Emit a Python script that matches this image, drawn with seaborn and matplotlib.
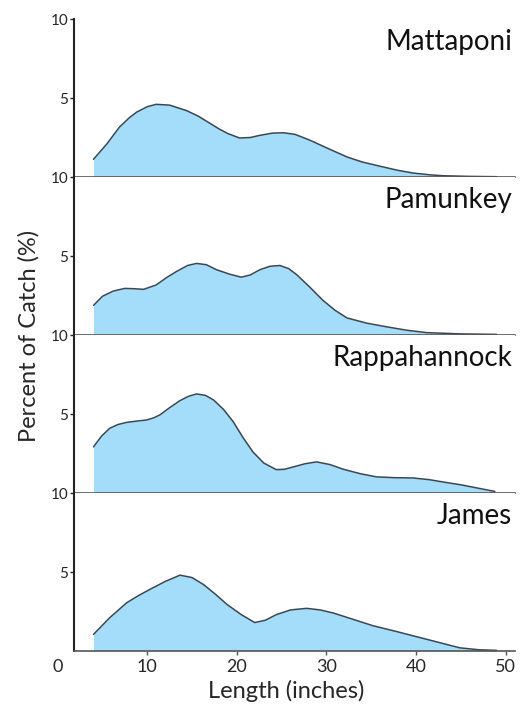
import pandas as pd
import numpy as np
import matplotlib
matplotlib.use("Agg")
import matplotlib.pyplot as plt
import seaborn as sns

rivers = ["Mattaponi", "Pamunkey", "Rappahannock", "James"]

mattaponi_x = [4.0, 5.5, 6.9, 8.0, 8.8, 10.0, 11.0, 12.5, 14.4, 15.7, 17.0, 18.0, 19.0, 20.3, 21.5, 22.6, 24.0, 25.2, 26.5, 28.2, 30.2, 32.3, 34.0, 36.0, 38.0, 39.7, 41.5, 43.0, 46.0, 49.0]
mattaponi_y = [1.12, 2.1, 3.16, 3.75, 4.1, 4.45, 4.6, 4.55, 4.2, 3.85, 3.4, 3.05, 2.75, 2.47, 2.5, 2.64, 2.78, 2.8, 2.7, 2.32, 1.8, 1.27, 0.95, 0.68, 0.42, 0.25, 0.14, 0.08, 0.04, 0.02]

pamunkey_x = [4.0, 5.0, 6.2, 7.5, 8.5, 9.6, 11.0, 12.2, 13.3, 14.5, 15.5, 16.6, 17.7, 19.2, 20.5, 21.5, 22.6, 23.7, 24.8, 25.8, 26.7, 28.2, 29.6, 31.0, 32.3, 34.5, 36.7, 39.0, 41.2, 45.0, 49.0]
pamunkey_y = [1.87, 2.45, 2.78, 2.95, 2.93, 2.89, 3.17, 3.65, 4.03, 4.4, 4.53, 4.45, 4.14, 3.85, 3.66, 3.8, 4.14, 4.35, 4.4, 4.2, 3.81, 3.0, 2.2, 1.55, 1.08, 0.75, 0.52, 0.3, 0.15, 0.07, 0.04]

rappahannock_x = [4.0, 4.9, 5.8, 6.7, 7.7, 8.8, 9.9, 10.7, 11.4, 12.5, 13.6, 14.6, 15.5, 16.5, 17.4, 18.5, 19.6, 20.7, 21.8, 23.0, 24.4, 25.3, 26.3, 27.6, 28.9, 30.4, 31.9, 33.8, 35.6, 37.6, 39.7, 41.4, 43.0, 45.0, 46.8, 48.8]
rappahannock_y = [2.92, 3.6, 4.09, 4.33, 4.47, 4.55, 4.62, 4.75, 4.94, 5.4, 5.83, 6.12, 6.27, 6.18, 5.89, 5.3, 4.51, 3.5, 2.6, 1.9, 1.48, 1.5, 1.65, 1.85, 1.97, 1.8, 1.5, 1.22, 1.02, 0.97, 0.95, 0.85, 0.7, 0.52, 0.32, 0.1]

james_x = [4.0, 5.8, 7.7, 9.0, 10.3, 12.0, 13.65, 15.0, 16.3, 17.6, 18.9, 20.5, 22.0, 23.2, 24.4, 26.0, 27.8, 29.3, 30.8, 33.0, 35.2, 37.7, 40.1, 42.5, 44.9, 47.0, 49.0]
james_y = [1.05, 2.1, 3.05, 3.5, 3.9, 4.4, 4.8, 4.65, 4.2, 3.6, 2.95, 2.3, 1.8, 1.95, 2.3, 2.6, 2.7, 2.6, 2.4, 2.0, 1.6, 1.25, 0.9, 0.55, 0.2, 0.08, 0.04]

curves = {
    "Mattaponi": (mattaponi_x, mattaponi_y),
    "Pamunkey": (pamunkey_x, pamunkey_y),
    "Rappahannock": (rappahannock_x, rappahannock_y),
    "James": (james_x, james_y),
}

x_ticks = [0, 10, 20, 30, 40, 50]
y_ticks = [5, 10]

df = pd.concat([pd.DataFrame({"river": r, "length": curves[r][0], "pct": curves[r][1]}) for r in rivers])

sns.set_theme(style="white")
plt.rcParams["font.family"] = ["Lato", "DejaVu Sans"]

fill_col = "#a3ddfa"
line_col = "#3b4650"

fig, axs = plt.subplots(4, 1, sharex=True, figsize=(5.24, 7.07), dpi=100)
fig.subplots_adjust(left=0.110, right=0.982, bottom=0.0792, top=0.9731, hspace=0)

for ax, river in zip(axs, rivers):
    d = df[df["river"] == river]
    ax.fill_between(d["length"], 0, d["pct"], color=fill_col, linewidth=0)
    sns.lineplot(data=d, x="length", y="pct", ax=ax, color=line_col, linewidth=1.1)
    ax.set_xlim(0, 51)
    ax.set_ylim(0, 10)
    ax.set_yticks(y_ticks)
    ax.set_yticklabels([str(t) for t in y_ticks], fontsize=13)
    ax.set_xlabel("")
    ax.set_ylabel("")
    ax.spines["top"].set_visible(False)
    ax.spines["right"].set_visible(False)
    ax.spines["left"].set_position(("data", 1.83))
    ax.spines["left"].set_color("#222222")
    ax.spines["left"].set_linewidth(1.5)
    ax.spines["bottom"].set_bounds(1.83, 51)
    ax.spines["bottom"].set_color("#555555")
    ax.spines["bottom"].set_linewidth(1.2)
    ax.tick_params(axis="y", left=True, length=3, width=1, color="#222222", pad=1)
    ax.text(0.995, 0.855, river, transform=ax.transAxes, ha="right", va="center", fontsize=20, color="#111111")

axs[-1].set_xticks(x_ticks)
axs[-1].set_xticklabels([str(t) for t in x_ticks], fontsize=13)
axs[-1].tick_params(axis="x", bottom=True, length=3, width=1, color="#555555", pad=3)
axs[-1].xaxis.get_major_ticks()[0].tick1line.set_visible(False)
for ax in axs[:-1]:
    ax.tick_params(axis="x", bottom=False, labelbottom=False)

axs[-1].set_xlabel("Length (inches)", fontsize=17, labelpad=3)
fig.text(0.055, 0.525, "Percent of Catch (%)", rotation=90, ha="center", va="center", fontsize=17)

plt.savefig("out.png", dpi=100)
